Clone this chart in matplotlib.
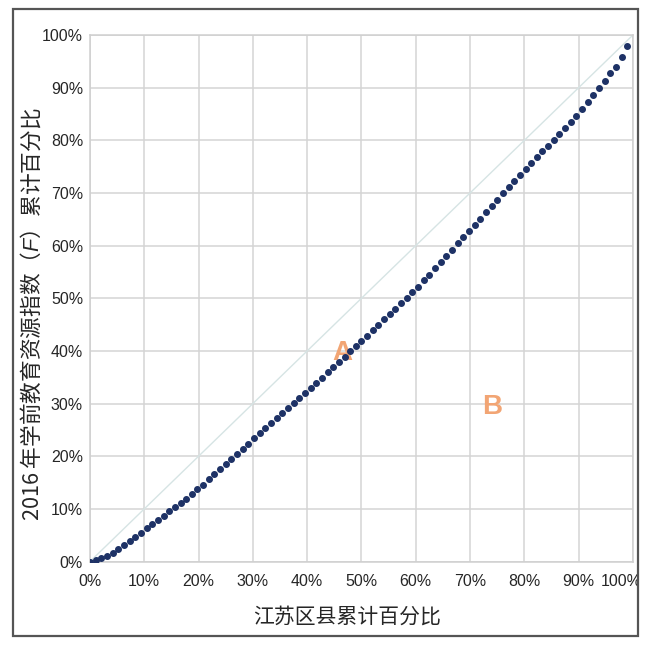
import matplotlib
matplotlib.use('Agg')
import matplotlib.pyplot as plt
import matplotlib.transforms as mtransforms
from matplotlib.patches import Rectangle
from matplotlib.ticker import PercentFormatter

plt.rcParams['font.family'] = ['Liberation Sans', 'Noto Sans CJK SC']
plt.rcParams['mathtext.fontset'] = 'custom'
plt.rcParams['mathtext.it'] = 'Liberation Sans:italic'
plt.rcParams['mathtext.rm'] = 'Liberation Sans'

# cumulative share of counties (%): 96 points, step 1/96
n_counties = 96
county_share = [100.0 * i / n_counties for i in range(n_counties)]

# cumulative share of the preschool education resource index F (%)
index_share = [
    0.0, 0.3, 0.7, 1.0, 1.7, 2.3, 3.1, 3.9, 4.7, 5.5,
    6.3, 7.1, 7.9, 8.7, 9.5, 10.3, 11.1, 11.9, 12.8, 13.7,
    14.6, 15.6, 16.6, 17.5, 18.5, 19.5, 20.4, 21.4, 22.4, 23.4,
    24.4, 25.3, 26.3, 27.2, 28.2, 29.1, 30.1, 31.0, 32.0, 33.0,
    33.9, 34.9, 35.9, 36.9, 37.9, 38.9, 39.9, 40.9, 41.9, 42.9,
    43.9, 45.0, 46.0, 47.0, 48.0, 49.1, 50.1, 51.1, 52.2, 53.4,
    54.5, 55.7, 56.9, 58.1, 59.2, 60.4, 61.6, 62.8, 64.0, 65.1,
    66.3, 67.5, 68.7, 69.9, 71.1, 72.3, 73.5, 74.6, 75.7, 76.8,
    77.9, 79.0, 80.1, 81.2, 82.3, 83.5, 84.7, 85.9, 87.3, 88.6,
    89.9, 91.3, 92.7, 94.0, 95.8, 97.9,
]

ticks = list(range(0, 101, 10))
equality = [0, 100]

fig = plt.figure(figsize=(6.49, 6.49), dpi=100)
ax = fig.add_axes([0.1387, 0.1348, 0.8366, 0.8113])

# line of equality
ax.plot(equality, equality, color='#d6e4e4', linewidth=1.0, zorder=2)
# Lorenz curve
ax.plot(county_share, index_share, linestyle='none', marker='o', markersize=4.0,
        color='#1e3266', zorder=4)

ax.text(46.5, 39.6, 'A', color='#f2a574', fontsize=20, fontweight='bold',
        ha='center', va='center', zorder=3)
ax.text(74.0, 29.3, 'B', color='#f2a574', fontsize=20, fontweight='bold',
        ha='center', va='center', zorder=3)

ax.set_xlim(0, 100)
ax.set_ylim(0, 100)
ax.set_xticks(ticks)
ax.set_yticks(ticks)
ax.xaxis.set_major_formatter(PercentFormatter(decimals=0))
ax.yaxis.set_major_formatter(PercentFormatter(decimals=0))
ax.tick_params(length=0, labelsize=11.5, labelcolor='#262626')
ax.tick_params(axis='x', pad=9)
ax.tick_params(axis='y', pad=5)

# last x label is pushed left to fit, like the original
last = ax.get_xticklabels()[-1]
last.set_transform(last.get_transform() +
                   mtransforms.ScaledTranslation(-12 / 100, 0, fig.dpi_scale_trans))

ax.grid(True, color='#d4d4d4', linewidth=1.1, zorder=1)
ax.set_axisbelow(True)
for s in ax.spines.values():
    s.set_color('#cfcfcf')
    s.set_linewidth(1.1)

ax.set_xlabel('江苏区县累计百分比', fontsize=15, color='#262626',
              family=['Noto Sans CJK SC'])
ax.set_ylabel('2016 年学前教育资源指数（$F$）累计百分比', fontsize=15.6,
              color='#262626', family=['Noto Sans CJK SC'])
ax.xaxis.set_label_coords(0.474, -0.083)
ax.yaxis.set_label_coords(-0.086, 0.47)

# outer frame; clip anything past it
fig.patches.append(Rectangle((638 / 649, 0), 1, 1, transform=fig.transFigure,
                             facecolor='white', edgecolor='none', zorder=5))
fig.patches.append(Rectangle((12.5 / 649, 1 - 635.5 / 649), 625.5 / 649, 626.5 / 649,
                             transform=fig.transFigure, facecolor='none',
                             edgecolor='#555555', linewidth=1.6, zorder=6))

fig.savefig('out.png', dpi=100)
